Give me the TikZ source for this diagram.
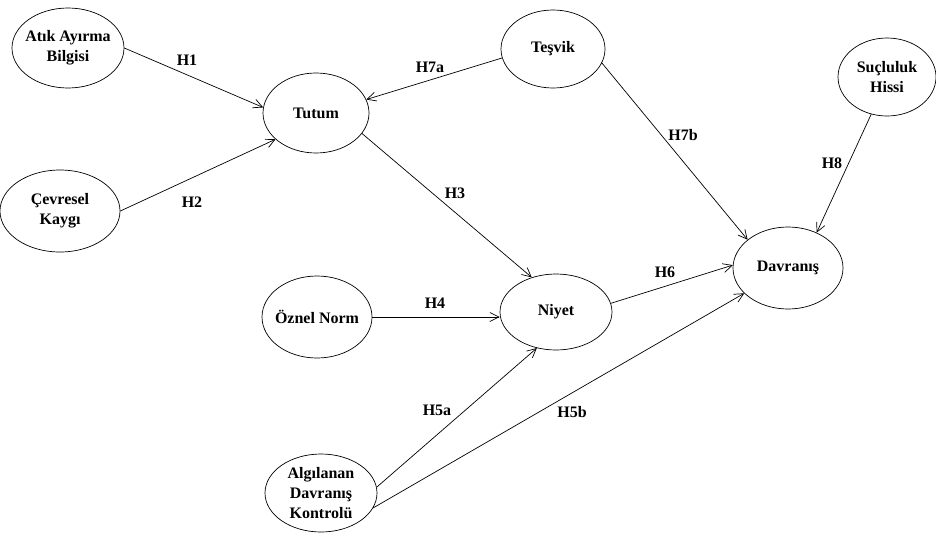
\documentclass[tikz,border=0pt]{standalone}
\usepackage{fontspec}
\setmainfont{Liberation Serif}
\usetikzlibrary{arrows.meta, shapes.geometric}
\tikzset{
  var/.style ={ellipse, draw, align=center, inner xsep=-10pt, inner ysep=0pt, minimum width=110pt, minimum height=80pt, font=\fontsize{16}{20}\selectfont\bfseries},
  fl/.style  ={-{Straight Barb[length=9pt, width=9pt]}},
  hyp/.style ={font=\fontsize{16}{20}\selectfont\bfseries, inner sep=1pt},
}
\begin{document}
\begin{tikzpicture}[x=1pt, y=-1pt, line width=0.7pt]
  \useasboundingbox (0,0) rectangle (936,533);
  % constructs
  \node[var, minimum width=112pt] (atik) at (68,48) {Atık Ayırma\\Bilgisi};
  \node[var, minimum width=120pt, minimum height=82pt] (cevre) at (60,211) {Çevresel\\Kaygı};
  \node[var, minimum width=106pt] (tutum) at (316,113) {Tutum};
  \node[var, minimum width=104pt, minimum height=78pt] (tesvik) at (553,49) {Teşvik};
  \node[var, minimum width=98pt, minimum height=78pt] (sucluluk) at (887,77) {Suçluluk\\Hissi};
  \node[var, minimum height=82pt] (davranis) at (788,268) {Davranış};
  \node[var, minimum width=112pt, minimum height=76pt] (niyet) at (556,312) {Niyet};
  \node[var, minimum height=82pt] (oznel) at (317,317) {Öznel Norm};
  \node[var, minimum width=112pt, minimum height=78pt] (algi) at (321,493) {Algılanan\\Davranış\\Kontrolü};
  % paths
  \draw[fl] (atik.east) -- (tutum.174);
  \draw[fl] (cevre.east) -- (tutum.213);
  \draw[fl] (tesvik.190) -- (tutum.15);
  \draw[fl] (tutum.336) -- (niyet.125);
  \draw[fl] (tesvik.344) -- (davranis.145);
  \draw[fl] (sucluluk.247) -- (davranis.51);
  \draw[fl] (oznel.east) -- (niyet.west |- oznel.east);
  \draw[fl] (algi.6) -- (niyet.242);
  \draw[fl] (algi.344) -- (davranis.210);
  \draw[fl] (niyet.9) -- (davranis.177);
  % hypotheses
  \node[hyp] (h1) at (187,60) {H1};
  \node[hyp] (h2) at (192,202) {H2};
  \node[hyp] (h7a) at (430,67) {H7a};
  \node[hyp] (h3) at (455,193) {H3};
  \node[hyp] (h4) at (435,303) {H4};
  \node[hyp] (h5a) at (437,410) {H5a};
  \node[hyp] (h5b) at (572,412) {H5b};
  \node[hyp] (h6) at (665,272) {H6};
  \node[hyp] (h7b) at (683,135) {H7b};
  \node[hyp] (h8) at (832,163) {H8};
\end{tikzpicture}
\end{document}
